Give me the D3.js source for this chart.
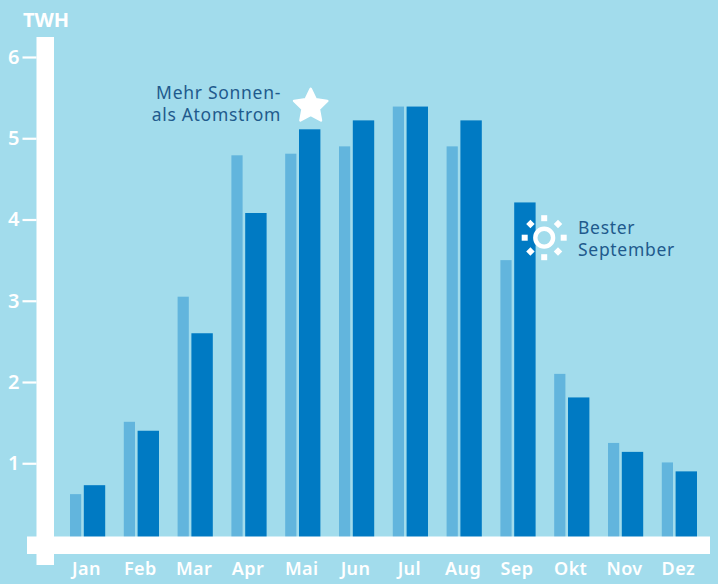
<!DOCTYPE html>
<html>
<head>
<meta charset="utf-8">
<script src="https://cdn.jsdelivr.net/npm/d3@7"></script>
<style>
  html, body { margin: 0; padding: 0; background: #a2dcec; }
  svg { display: block; font-family: "Noto Sans", sans-serif; }
</style>
</head>
<body>
<svg id="chart" width="718" height="584"></svg>
<script>
// Values
const months = ['Jan', 'Feb', 'Mar', 'Apr', 'Mai', 'Jun', 'Jul', 'Aug', 'Sep', 'Okt', 'Nov', 'Dez'];
const lightValues = [0.62, 1.51, 3.05, 4.79, 4.81, 4.9, 5.39, 4.9, 3.5, 2.1, 1.25, 1.01];
const darkValues = [0.73, 1.4, 2.6, 4.08, 5.11, 5.22, 5.39, 5.22, 4.21, 1.81, 1.14, 0.9];
const yTicks = [1, 2, 3, 4, 5, 6];
const noteStar = ['Mehr Sonnen-', 'als Atomstrom'];
const noteSun = ['Bester', 'September'];

const white = '#ffffff';
const textBlue = '#1f5a8c';

const svg = d3.select('#chart');

const x = d3.scaleBand().domain(months).range([60.6, 706.2]);
const y = d3.scaleLinear().domain([0, 6]).range([544.5, 57]);

// Bar layout inside one month
const lightOffset = 9.4, lightWidth = 11.2;
const darkOffset = 23.2, darkWidth = 21.4;

// Bars go down to zero, the white axis band covers their foot
svg.append('g').selectAll('rect')
  .data(months)
  .join('rect')
  .attr('x', d => x(d) + lightOffset)
  .attr('width', lightWidth)
  .attr('y', (d, i) => y(lightValues[i]))
  .attr('height', (d, i) => y(0) - y(lightValues[i]))
  .attr('fill', '#62b5dd');

svg.append('g').selectAll('rect')
  .data(months)
  .join('rect')
  .attr('x', d => x(d) + darkOffset)
  .attr('width', darkWidth)
  .attr('y', (d, i) => y(darkValues[i]))
  .attr('height', (d, i) => y(0) - y(darkValues[i]))
  .attr('fill', '#007ac3');

// Thick white axis bars
svg.append('rect').attr('x', 36.5).attr('y', 37).attr('width', 17.5).attr('height', 528).attr('fill', white);
svg.append('rect').attr('x', 27).attr('y', 536.5).attr('width', 683).attr('height', 17.5).attr('fill', white);

// y axis
const yAxis = svg.append('g')
  .attr('transform', 'translate(36.5,0)')
  .call(d3.axisLeft(y).tickValues(yTicks).tickFormat(d3.format('d')).tickSize(14).tickPadding(3));
yAxis.select('.domain').remove();
yAxis.selectAll('line').attr('stroke', white).attr('stroke-width', 2.2);
yAxis.selectAll('text')
  .attr('fill', white)
  .attr('font-size', 20)
  .attr('font-weight', 600)
  .attr('font-family', '"Noto Sans", sans-serif');

svg.append('text')
  .attr('x', 46).attr('y', 27)
  .attr('text-anchor', 'middle')
  .attr('fill', white)
  .attr('font-size', 20)
  .attr('font-weight', 700)
  .text('TWH');

// x axis
const xAxis = svg.append('g')
  .attr('transform', 'translate(0,554)')
  .call(d3.axisBottom(x).tickSize(0).tickPadding(8));
xAxis.select('.domain').remove();
xAxis.selectAll('text')
  .attr('dx', -1)
  .attr('fill', white)
  .attr('font-size', 18)
  .attr('font-weight', 600)
  .attr('letter-spacing', 0.4)
  .attr('font-family', '"Noto Sans", sans-serif');

// Star over the May bar
const starX = x('Mai') + darkOffset + darkWidth / 2 + 1;
const starY = y(darkValues[4]) - 23;
const starRadial = d3.lineRadial().curve(d3.curveLinearClosed)
  .angle((d, i) => i * Math.PI / 5)
  .radius((d, i) => (i % 2 ? 8.6 : 17.5));
svg.append('path')
  .attr('transform', `translate(${starX},${starY})`)
  .attr('d', starRadial(d3.range(10)))
  .attr('fill', white)
  .attr('stroke', white)
  .attr('stroke-width', 2.5)
  .attr('stroke-linejoin', 'round');

svg.append('g').selectAll('text')
  .data(noteStar)
  .join('text')
  .attr('x', 281)
  .attr('y', (d, i) => 99 + i * 22)
  .attr('text-anchor', 'end')
  .attr('fill', textBlue)
  .attr('font-size', 17.5)
  .attr('letter-spacing', 0.7)
  .text(d => d);

// Sun on the September bar
const sun = svg.append('g')
  .attr('transform', `translate(${x('Sep') + darkOffset + 30},237.7)`);
sun.append('circle').attr('r', 8.9).attr('fill', 'none').attr('stroke', white).attr('stroke-width', 4.4);
sun.selectAll('rect')
  .data(d3.range(8))
  .join('rect')
  .attr('x', -3).attr('y', -3)
  .attr('width', 6).attr('height', 6)
  .attr('transform', d => `rotate(${d * 45}) translate(19.5,0)`)
  .attr('fill', white);

svg.append('g').selectAll('text')
  .data(noteSun)
  .join('text')
  .attr('x', 578)
  .attr('y', (d, i) => 234 + i * 22)
  .attr('fill', textBlue)
  .attr('font-size', 17.5)
  .attr('letter-spacing', 0.7)
  .text(d => d);
</script>
</body>
</html>
